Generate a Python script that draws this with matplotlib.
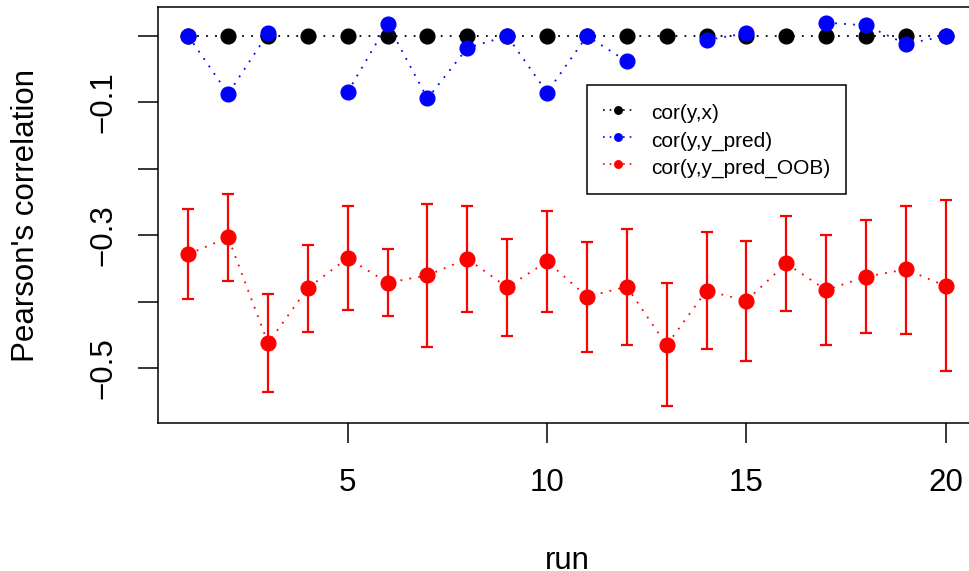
import matplotlib
matplotlib.use("Agg")
import matplotlib.pyplot as plt
from matplotlib.lines import Line2D
import numpy as np

plt.rcParams['font.family'] = ['Liberation Sans', 'DejaVu Sans']

# data
runs = np.arange(1, 21)
cor_y_x = [0.0] * 20
cor_y_pred = [0.0, -0.087, 0.004, np.nan, -0.084, 0.018, -0.094, -0.018, 0.0, -0.085,
              0.0, -0.038, np.nan, -0.006, 0.004, np.nan, 0.020, 0.016, -0.012, 0.0]
cor_oob = [-0.328, -0.303, -0.462, -0.379, -0.334, -0.371, -0.360, -0.335, -0.378, -0.339,
           -0.392, -0.377, -0.465, -0.383, -0.398, -0.342, -0.382, -0.362, -0.351, -0.376]
oob_hi = [-0.260, -0.238, -0.388, -0.315, -0.256, -0.320, -0.252, -0.256, -0.305, -0.263,
          -0.310, -0.291, -0.372, -0.295, -0.309, -0.271, -0.299, -0.276, -0.255, -0.247]
oob_lo = [-0.395, -0.368, -0.536, -0.445, -0.412, -0.421, -0.468, -0.415, -0.451, -0.415,
          -0.475, -0.464, -0.557, -0.471, -0.489, -0.414, -0.464, -0.447, -0.448, -0.504]
legend_labels = ["cor(y,x)", "cor(y,y_pred)", "cor(y,y_pred_OOB)"]
colors = ["black", "blue", "red"]

fig = plt.figure(figsize=(9.69, 5.71), dpi=100)
ax = fig.add_axes([158 / 969, 1 - 423 / 571, 818 / 969, 416 / 571])

dots = (0, (1, 4))
ax.plot(runs, cor_y_x, color=colors[0], ls=dots, lw=1.3, marker="o", ms=10.6)
ax.plot(runs, cor_y_pred, color=colors[1], ls=dots, lw=1.3, marker="o", ms=10.6)

oob = np.array(cor_oob)
yerr = [oob - np.array(oob_lo), np.array(oob_hi) - oob]
ax.errorbar(runs, oob, yerr=yerr, color=colors[2], ls=dots, lw=1.3, marker="o", ms=10.6,
            elinewidth=1.6, capsize=4, capthick=1.6)

ax.set_xlim(0.24, 20.76)
ax.set_ylim(-0.582, 0.0436)
ax.set_xticks([5, 10, 15, 20])
ax.set_yticks([0, -0.1, -0.2, -0.3, -0.4, -0.5])
ax.set_yticklabels(["", "\u22120.1", "", "\u22120.3", "", "\u22120.5"], rotation=90, va="center")
ax.tick_params(axis="both", length=14.4, width=1.1, labelsize=22.5)
ax.tick_params(axis="x", pad=18)
ax.tick_params(axis="y", pad=14)
for s in ax.spines.values():
    s.set_linewidth(1.1)

ax.set_xlabel("run", fontsize=22.5)
ax.set_ylabel("Pearson's correlation", fontsize=22.5)
ax.xaxis.label.set_va("baseline")
ax.xaxis.set_label_coords(0.5, -0.352)
ax.yaxis.label.set_va("center")
ax.yaxis.set_label_coords((26 - 158) / 818, 0.5)

handles = [Line2D([], [], color=c, ls=(0, (1, 3)), lw=1.2, marker="o", ms=5.4) for c in colors]
leg = ax.legend(handles, legend_labels, loc="upper left",
                bbox_to_anchor=(587 / 969, 1 - 85 / 571), bbox_transform=fig.transFigure,
                borderaxespad=0, fontsize=15, frameon=True, fancybox=False,
                edgecolor="black", framealpha=1, borderpad=0.75, labelspacing=0.22,
                handleheight=1.3, handlelength=1.5, handletextpad=0.85)
leg.get_frame().set_linewidth(1.1)

fig.savefig("out.png", dpi=100)
